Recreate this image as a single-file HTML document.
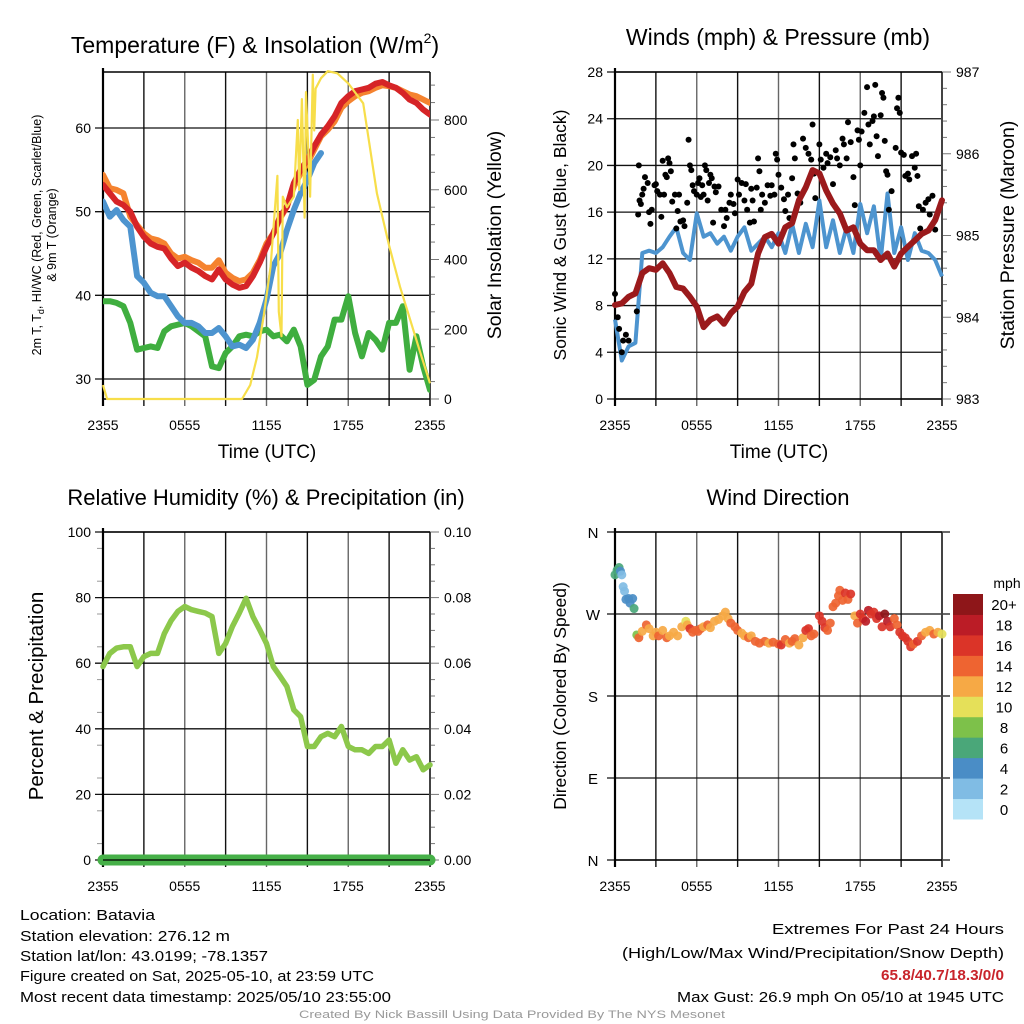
<!DOCTYPE html>
<html><head><meta charset="utf-8"><style>
html,body{margin:0;padding:0;background:#fff}
svg{display:block;font-family:"Liberation Sans",Arial,sans-serif}
</style></head><body>
<svg id="chart" width="1024" height="1024" viewBox="0 0 1024 1024" xmlns="http://www.w3.org/2000/svg"></svg>
<script>
// ---------- DATA ----------
const hours = [0,0.5,1,1.5,2,2.5,3,3.5,4,4.5,5,5.5,6,6.5,7,7.5,8,8.5,9,9.5,10,10.5,11,11.5,12,12.5,13,13.5,14,14.5,15,15.5,16,16.5,17,17.5,18,18.5,19,19.5,20,20.5,21,21.5,22,22.5,23,23.5,24];
const temp2m = [53.2,52.2,51.2,50.8,50,48.2,47,46.2,45.8,45.6,44.4,43.5,43.9,43.3,42.9,42.3,41.9,43.1,41.9,41.3,40.9,41.1,42.3,43.9,45.8,47.4,49.4,50.6,53.4,55,56.2,57.8,59.2,60.2,61.4,63,63.8,64.4,64.6,64.8,65.3,65.5,65.1,64.8,64.2,63.4,63,62.2,61.6];
const temp9m = [54.4,52.8,52.6,52.2,49.4,48.4,47.4,46.8,46.6,46.2,45,44.4,44.6,44.2,43.9,43.3,43.3,44.2,42.7,42.1,41.7,41.9,42.7,44.2,46.2,47.4,49.2,50.6,53,54.6,55.8,57.4,59,59.8,60.8,62.4,63.2,63.8,64.2,64.4,64.8,65.1,65,64.8,64.4,64,63.8,63.4,63];
const heatWindChill = [51.2,49.4,50.2,49,48.2,42.3,41.5,40.3,39.9,39.9,38.7,37.5,36.7,36.7,36.3,35.5,35.5,36.1,35.1,33.9,34.1,33.7,34.7,36.7,39.5,43.5,45,47.8,50.2,52.2,53.8,55.8,57,null,null,null,null,null,null,null,null,null,null,null,null,null,null,null,null];
const dewPoint = [39.3,39.3,39.1,38.7,36.7,33.5,33.7,33.9,33.7,35.7,36.3,36.5,36.7,36.3,35.7,35.1,31.5,31.3,33.1,33.9,35.1,35.3,35.1,35.7,35.9,35.1,35.3,34.5,35.9,33.9,29.3,29.9,32.7,33.9,37.1,37.1,39.9,35.5,32.7,35.5,34.7,33.5,36.7,36.7,38.7,31.1,35.1,31.5,28.7];
const solarHours = [0,0.3,10.2,10.8,11.3,11.8,12.3,12.8,12.9,13.1,13.2,13.5,14,14.3,14.4,14.6,14.8,14.9,15.2,15.4,15.5,15.6,16,16.5,17.2,18,19.1,20.1,21,21.8,23.3,24];
const solarValues = [40,0,0,40,120,240,380,640,250,180,580,550,580,800,600,860,520,880,580,930,770,890,920,940,934,905,848,590,440,322,131,45];
const sonicWind = [6.8,3.3,4.5,4.8,12.5,12.7,12.5,13,13.9,14.7,12.5,11.9,15.9,13.9,14.2,13.3,13.9,12.7,13.9,14.7,12.7,13.3,13.9,13,14.2,12.5,15,12.5,15,13,17,13,15.3,12.5,14.7,12.5,16.7,14.2,16.5,11.9,17.6,12.5,14.7,11.9,14.2,12.7,12.5,11.9,10.5];
const pressure = [984.15,984.17,984.25,984.29,984.54,984.6,984.58,984.66,984.54,984.37,984.35,984.25,984.13,983.88,983.97,984.01,983.92,984.05,984.13,984.31,984.41,984.78,984.98,985.02,984.9,985.1,985.15,985.43,985.59,985.8,985.76,985.55,985.39,985.27,985.06,985.1,984.9,984.82,984.82,984.7,984.78,984.62,984.78,984.86,984.94,985.02,985.06,985.19,985.43];
const gustHours = [0,0.2,0.3,0.5,0.6,0.8,1.0,1.6,1.7,1.75,1.8,1.9,2.0,2.1,2.2,2.4,2.5,2.6,2.7,2.9,3.0,3.1,3.3,3.4,3.5,3.6,3.7,3.8,3.9,4.0,4.1,4.2,4.4,4.5,4.6,4.7,4.8,5.0,5.1,5.3,5.4,5.5,5.6,5.7,5.8,6.0,6.1,6.2,6.3,6.4,6.5,6.6,6.7,6.8,6.9,7.0,7.1,7.2,7.3,7.4,7.6,7.8,8.0,8.1,8.2,8.4,8.5,8.7,8.8,9.0,9.1,9.3,9.5,9.6,9.7,9.9,10.0,10.1,10.2,10.4,10.5,10.6,10.7,10.8,11.0,11.2,11.4,11.5,11.7,11.8,11.9,12.0,12.2,12.4,12.5,12.7,12.8,13.0,13.1,13.2,13.4,13.6,13.8,14.0,14.2,14.4,14.5,14.6,14.7,15.0,15.1,15.3,15.5,15.6,15.8,16.0,16.2,16.3,16.5,16.7,16.8,17.0,17.1,17.3,17.5,17.6,17.8,17.9,18.0,18.1,18.3,18.5,18.6,18.7,18.9,19.0,19.1,19.2,19.3,19.5,19.6,19.7,19.8,19.9,20.0,20.1,20.3,20.6,20.7,20.8,20.9,21.0,21.2,21.3,21.5,21.6,21.8,22.0,22.1,22.2,22.3,22.4,22.6,22.8,23.0,23.1,23.3,23.5];
const gustValues = [9,7,6,4,5,5.5,5,7.5,15.8,20,17,16.7,17.5,18,19,18.5,16,15,16.2,18.3,18.4,17.8,17.5,15.6,20.4,17.5,19.2,19,20.6,20.2,19.5,16.9,17.5,14.6,16.1,17.5,15.2,15.3,14.8,16.8,22.2,20,19.6,18.3,17.8,17.5,18.5,18.9,17.3,18.3,17.5,20,19.6,17,18.5,19.2,18.9,15.1,18.2,17.7,18.2,16.2,14.8,16.2,15.5,16.8,17.5,16.7,15.9,18.8,17.5,18.5,17,18.4,16.2,15.1,18,17,15.2,18.1,20.6,19.5,16.2,17.5,16.8,18.3,17.4,18.3,17.5,21,20.5,19.2,18.1,17.1,16.1,17.5,15.5,18.9,21.8,20.6,17.6,16.8,22.3,21.5,21,20.5,23.5,19.3,17.2,21.8,20.5,19.8,21,20.2,20.7,18.4,21.3,20.6,20,22.3,21.8,20.6,23.7,22,19,16.6,23,22.2,20,22.9,24.5,26.7,23.5,21.8,23.8,24.2,26.9,22.5,20.8,24.3,26.2,25.8,22.1,19.5,19.2,16.2,17.8,21.5,24.9,25.8,24.5,21.1,20.9,19.1,19.3,18.8,20.8,19.8,21,19.1,16.5,14.6,16.2,16.8,17.1,15.8,17.4,14.5];
const humidity = [59,63,64.6,65,65,59,62,63,63,69,73,75.8,77.3,76.3,75.8,75.3,74.2,63,66,71.2,75.3,79.8,74.2,70.2,66,59,56,52.9,45.8,43.7,34.6,34.6,37.6,38.6,37.6,40.7,34.6,33.6,33.6,32.5,34.6,34.6,36.6,29.5,33.6,30.5,31.5,27.5,29];
const precip = [0,0,0,0,0,0,0,0,0,0,0,0,0,0,0,0,0,0,0,0,0,0,0,0,0,0,0,0,0,0,0,0,0,0,0,0,0,0,0,0,0,0,0,0,0,0,0,0,0];
const dirHours = [0,0.15,0.3,0.4,0.5,0.6,0.7,0.8,1.0,1.1,1.3,1.4,1.6,1.75,2.0,2.3,2.5,2.8,3.0,3.2,3.5,3.8,4.0,4.3,4.6,4.9,5.2,5.3,5.5,5.7,5.9,6.1,6.3,6.5,6.8,7.0,7.3,7.6,7.9,8.1,8.3,8.5,8.8,9.0,9.3,9.5,9.8,10.0,10.3,10.6,11.0,11.3,11.6,12.0,12.2,12.5,12.8,13.0,13.2,13.5,13.8,14.0,14.2,14.4,14.6,15.0,15.2,15.4,15.6,15.8,16.0,16.2,16.4,16.5,16.7,16.9,17.1,17.3,17.6,17.8,18.0,18.2,18.4,18.6,18.8,19.0,19.2,19.4,19.6,19.8,20.0,20.2,20.5,20.7,20.9,21.1,21.3,21.5,21.7,21.9,22.2,22.5,22.8,23.1,23.4,23.7,24.0];
const dirValues = [313,318,321,317,313,300,295,286,287,282,287,276,247,244,251,258,254,246,250,246,252,244,246,250,246,256,262,258,254,250,252,251,254,256,258,255,262,264,268,272,265,260,256,252,249,246,244,246,240,238,240,238,239,237,236,242,238,240,243,236,244,252,254,246,248,268,262,255,252,260,278,282,290,296,285,293,286,292,268,260,270,265,262,274,270,272,265,268,256,270,262,256,265,258,250,246,244,240,234,237,240,246,250,252,248,250,248];
const dirSpeeds = [6,6,6,4,2,2,2,4,4,4,4,6,8,14,13,14,13,13,12,14,13,14,13,12,12,12,10,12,16,15,14,14,15,13,14,13,12,12,12,12,13,14,14,14,13,12,14,12,14,15,14,13,14,15,16,14,12,14,14,12,13,16,16,14,14,17,16,16,14,15,14,14,15,14,14,17,15,16,12,14,16,17,18,18,16,17,17,18,16,20,18,16,14,14,16,16,17,16,16,15,16,14,13,12,14,12,10];
const tempTicks = [30,40,50,60];
const solarTicks = [0,200,400,600,800];
const windTicks = [0,4,8,12,16,20,24,28];
const pressTicks = [983,984,985,986,987];
const rhTicks = [0,20,40,60,80,100];
const precipTicks = ["0.00","0.02","0.04","0.06","0.08","0.10"];
const dirTicks = ["N","E","S","W","N"];
const timeLabels = ["2355","0555","1155","1755","2355"];
const speedBins = ["0","2","4","6","8","10","12","14","16","18","20+"];
const speedColors = ["#b5e3f7","#80bce4","#4a8dc6","#4aa779","#7dc14a","#e5e059","#f6a945","#ee6431","#db3428","#bb1c26","#8e1619"];

// ---------- HELPERS ----------
const NS="http://www.w3.org/2000/svg";
const svg=document.getElementById('chart');
function mk(tag,attrs,parent){const e=document.createElementNS(NS,tag);for(const k in attrs)e.setAttribute(k,attrs[k]);(parent||svg).appendChild(e);return e;}
function txt(s,x,y,size,anchor,parent,extra){const e=mk('text',Object.assign({x:x,y:y,'font-size':size,'text-anchor':anchor||'middle',fill:'#000'},extra||{}),parent);e.textContent=s;return e;}
const XL=[103,615], W=327;
const TOP=[72,532], BOT=[399,860];
function xs(p,h){return XL[p]+h/24*W;}
function lin(d0,d1,r0,r1){return v=>r0+(v-d0)/(d1-d0)*(r1-r0);}

function frame(p,row,name){
  const g=mk('g',{});
  
  
  const y0=TOP[row],y1=BOT[row];
  for(let h=3;h<24;h+=3){
    const l=mk('line',{x1:xs(p,h),x2:xs(p,h),y1:y0,y2:y1+7,stroke:(h%6===0)?'#666':'#111','stroke-width':1.4},g);
    
    
  }
  for(let i=0;i<5;i++){
    const x=xs(p,i*6);
    const t=txt(timeLabels[i],x,y1+31,14,'middle',g);
    
    
  }
  return g;
}
function hline(g,p,y,ext){mk('line',{x1:XL[p]-8,x2:XL[p]+W+(ext||0),y1:y,y2:y,stroke:'#111','stroke-width':1.3},g);}
function border(g,p,row){
  mk('line',{x1:XL[p],x2:XL[p],y1:TOP[row]-4,y2:BOT[row]+7,stroke:'#000','stroke-width':2.2},g);
  mk('line',{x1:XL[p]+W,x2:XL[p]+W,y1:TOP[row],y2:BOT[row]+7,stroke:'#444','stroke-width':2},g);
  mk('line',{x1:XL[p],x2:XL[p]+W,y1:TOP[row],y2:TOP[row],stroke:'#000','stroke-width':1.4},g);
  mk('line',{x1:XL[p],x2:XL[p]+W,y1:BOT[row],y2:BOT[row],stroke:'#000','stroke-width':1.6},g);
}
function pathFrom(xsArr,ysArr,xf,yf){let d='',pen=false;for(let i=0;i<xsArr.length;i++){const v=ysArr[i];if(v===null||v===undefined){pen=false;continue;}d+=(pen?'L':'M')+xf(xsArr[i]).toFixed(1)+','+yf(v).toFixed(1);pen=true;}return d;}

// ---------- PANEL 1: Temperature ----------
{
  const p=0,row=0;
  const g=frame(p,row,'temperature-panel');
  const yT=lin(30,60,379,128), yS=lin(0,800,399,120);
  tempTicks.forEach(v=>{hline(g,p,yT(v),0);const t=txt(String(v),XL[p]-12,yT(v)+5,14,'end',g);});
  for(let v=0;v<=900;v+=50){const y=yS(v);mk('line',{x1:XL[p]+W,x2:XL[p]+W+(v%200===0?9:5),y1:y,y2:y,stroke:'#777','stroke-width':1},g);}
  solarTicks.forEach(v=>{const t=txt(String(v),XL[p]+W+14,yS(v)+5,14,'start',g);});
  border(g,p,row);
  const xf=h=>xs(p,h);
  const clip=mk('clipPath',{id:'c1'});mk('rect',{x:XL[p],y:TOP[row],width:W,height:BOT[row]-TOP[row]},clip);
  const series=[[dewPoint,'#3fae3f','dew-point-line'],[heatWindChill,'#4d94cf','heat-index-wind-chill-line'],[temp9m,'#f5832f','temp-9m-line'],[temp2m,'#d62427','temp-2m-line']];
  series.forEach(s=>{const e=mk('path',{d:pathFrom(hours,s[0],xf,yT),fill:'none',stroke:s[1],'stroke-width':6,'stroke-linejoin':'round','stroke-linecap':'round','clip-path':'url(#c1)'},g);});
  const sl=mk('path',{d:pathFrom(solarHours,solarValues,xf,yS),fill:'none',stroke:'#f7de4a','stroke-width':2.2,'stroke-linejoin':'round'},g);
  
  
  const tt=txt('Temperature (F) & Insolation (W/m',255,53,23,'middle',g);
  
  
  const ts=mk('tspan',{'font-size':14,dy:-10},tt);ts.textContent='2';
  const ts2=mk('tspan',{dy:10},tt);ts2.textContent=')';
  const xt=txt('Time (UTC)',267,458,19,'middle',g);
  const yl=mk('text',{transform:'translate(41,235) rotate(-90)','font-size':12.5,'text-anchor':'middle'},g);
  
  
  yl.innerHTML='2m T, T<tspan font-size="9" dy="3">d</tspan><tspan dy="-3">, HI/WC (Red, Green, Scarlet/Blue)</tspan>';
  const yl2=mk('text',{transform:'translate(56,235) rotate(-90)','font-size':12.5,'text-anchor':'middle'},g);
  
  
  yl2.textContent='& 9m T (Orange)';
  const yr=mk('text',{transform:'translate(501,235) rotate(-90)','font-size':19.5,'text-anchor':'middle'},g);
  
  
  yr.textContent='Solar Insolation (Yellow)';
}

// ---------- PANEL 2: Winds ----------
{
  const p=1,row=0;
  const g=frame(p,row,'winds-panel');
  const yW=lin(0,28,399,72), yP=lin(983,987,399,72);
  windTicks.forEach(v=>{hline(g,p,yW(v),0);const t=txt(String(v),XL[p]-12,yW(v)+5,14,'end',g);});
  for(let v=983;v<=987.001;v+=0.2){const y=yP(v);mk('line',{x1:XL[p]+W,x2:XL[p]+W+(Math.abs(v-Math.round(v))<0.01?9:5),y1:y,y2:y,stroke:'#777','stroke-width':1},g);}
  pressTicks.forEach(v=>{const t=txt(String(v),XL[p]+W+14,yP(v)+5,14,'start',g);});
  border(g,p,row);
  const xf=h=>xs(p,h);
  const wl=mk('path',{d:pathFrom(hours,sonicWind,xf,yW),fill:'none',stroke:'#4d94cf','stroke-width':4,'stroke-linejoin':'round'},g);
  
  
  gustHours.forEach((h,i)=>{const c=mk('circle',{cx:xf(h),cy:yW(gustValues[i]),r:3,fill:'#000'},g);});
  const pl=mk('path',{d:pathFrom(hours,pressure,xf,yP),fill:'none',stroke:'#9b1a1c','stroke-width':6,'stroke-linejoin':'round','stroke-linecap':'round'},g);
  
  
  const tt=txt('Winds (mph) & Pressure (mb)',778,45,23,'middle',g);
  const xt=txt('Time (UTC)',779,458,19,'middle',g);
  const yl=mk('text',{transform:'translate(566,235) rotate(-90)','font-size':17.5,'text-anchor':'middle'},g);
  
  
  yl.textContent='Sonic Wind & Gust (Blue, Black)';
  const yr=mk('text',{transform:'translate(1014,235) rotate(-90)','font-size':19.5,'text-anchor':'middle'},g);
  
  
  yr.textContent='Station Pressure (Maroon)';
}

// ---------- PANEL 3: Humidity ----------
{
  const p=0,row=1;
  const g=frame(p,row,'humidity-panel');
  const yR=lin(0,100,860,532), yPr=lin(0,0.1,860,532);
  rhTicks.forEach(v=>{hline(g,p,yR(v),0);const t=txt(String(v),XL[p]-12,yR(v)+5,14,'end',g);});
  for(let v=0;v<=100;v+=5){const y=yR(v);mk('line',{x1:XL[p]+W,x2:XL[p]+W+(v%20===0?9:5),y1:y,y2:y,stroke:'#777','stroke-width':1},g);if(v%10===5)mk('line',{x1:XL[p]-6,x2:XL[p],y1:y,y2:y,stroke:'#999','stroke-width':1},g);}
  precipTicks.forEach(v=>{const t=txt(v,XL[p]+W+14,yPr(parseFloat(v))+5,14,'start',g);});
  border(g,p,row);
  const xf=h=>xs(p,h);
  const rl=mk('path',{d:pathFrom(hours,humidity,xf,yR),fill:'none',stroke:'#8cc84b','stroke-width':5.5,'stroke-linejoin':'round','stroke-linecap':'round'},g);
  
  
  const pr=mk('path',{d:pathFrom(hours,precip,xf,yPr),fill:'none',stroke:'#46b048','stroke-width':11,'stroke-linecap':'round'},g);
  
  
  mk('line',{x1:XL[p],x2:XL[p]+W,y1:BOT[row],y2:BOT[row],stroke:'#000','stroke-width':1.2},g);
  const tt=txt('Relative Humidity (%) & Precipitation (in)',266,505,22,'middle',g);
  const yl=mk('text',{transform:'translate(43,696) rotate(-90)','font-size':20.5,'text-anchor':'middle'},g);
  
  
  yl.textContent='Percent & Precipitation';
}

// ---------- PANEL 4: Wind direction ----------
{
  const p=1,row=1;
  const g=frame(p,row,'wind-direction-panel');
  const yD=lin(0,360,860,532);
  dirTicks.forEach((s,i)=>{const v=i*90;mk('line',{x1:XL[p]-8,x2:950,y1:yD(v),y2:yD(v),stroke:'#111','stroke-width':1.3},g);const t=txt(s,XL[p]-22,yD(v)+6,15,'middle',g);});
  border(g,p,row);
  const xf=h=>xs(p,h);
  dirHours.forEach((h,i)=>{const bin=Math.min(10,Math.floor(dirSpeeds[i]/2));const c=mk('circle',{cx:xf(h),cy:yD(dirValues[i]),r:4.5,fill:speedColors[bin],'fill-opacity':0.92},g);});
  const tt=txt('Wind Direction',778,505,22,'middle',g);
  const yl=mk('text',{transform:'translate(566,696) rotate(-90)','font-size':17.5,'text-anchor':'middle'},g);
  
  
  yl.textContent='Direction (Colored By Speed)';
  const lg=mk('g',{},g);
  
  
  const bh=(819-594)/11;
  speedBins.forEach((s,i)=>{const y=819-(i+1)*bh;mk('rect',{x:953,y:y,width:30,height:bh+0.5,fill:speedColors[i]},lg);const t=txt(s,1004,y+bh/2+6,15,'middle',lg);});
  const mu=txt('mph',1007,588,14,'middle',lg);
}

// ---------- FOOTER TEXT ----------
{
  const g=mk('g',{});
  
  
  const L=[['Location: Batavia',920,135],['Station elevation: 276.12 m',941,210],['Station lat/lon: 43.0199; -78.1357',961,248],['Figure created on Sat, 2025-05-10, at 23:59 UTC',981,354],['Most recent data timestamp: 2025/05/10 23:55:00',1002,371]];
  L.forEach(l=>{txt(l[0],20,l[1],14.5,'start',g,{textLength:l[2],lengthAdjust:'spacingAndGlyphs'});});
  const R=[['Extremes For Past 24 Hours',934,232,'#000'],['(High/Low/Max Wind/Precipitation/Snow Depth)',958,382,'#000'],['65.8/40.7/18.3/0/0',980,123,'#c8242b'],['Max Gust: 26.9 mph On 05/10 at 1945 UTC',1002,327,'#000']];
  const g2=mk('g',{});
  
  
  R.forEach((r,i)=>{txt(r[0],1004,r[1],14.5,'end',g2,{textLength:r[2],lengthAdjust:'spacingAndGlyphs',fill:r[3],'font-weight':i===2?'bold':'normal'});});
  const f=txt('Created By Nick Bassill Using Data Provided By The NYS Mesonet',512,1018,11,'middle',null,{fill:'#999',textLength:426,lengthAdjust:'spacingAndGlyphs'});
  
  
}
</script>
</body></html>
